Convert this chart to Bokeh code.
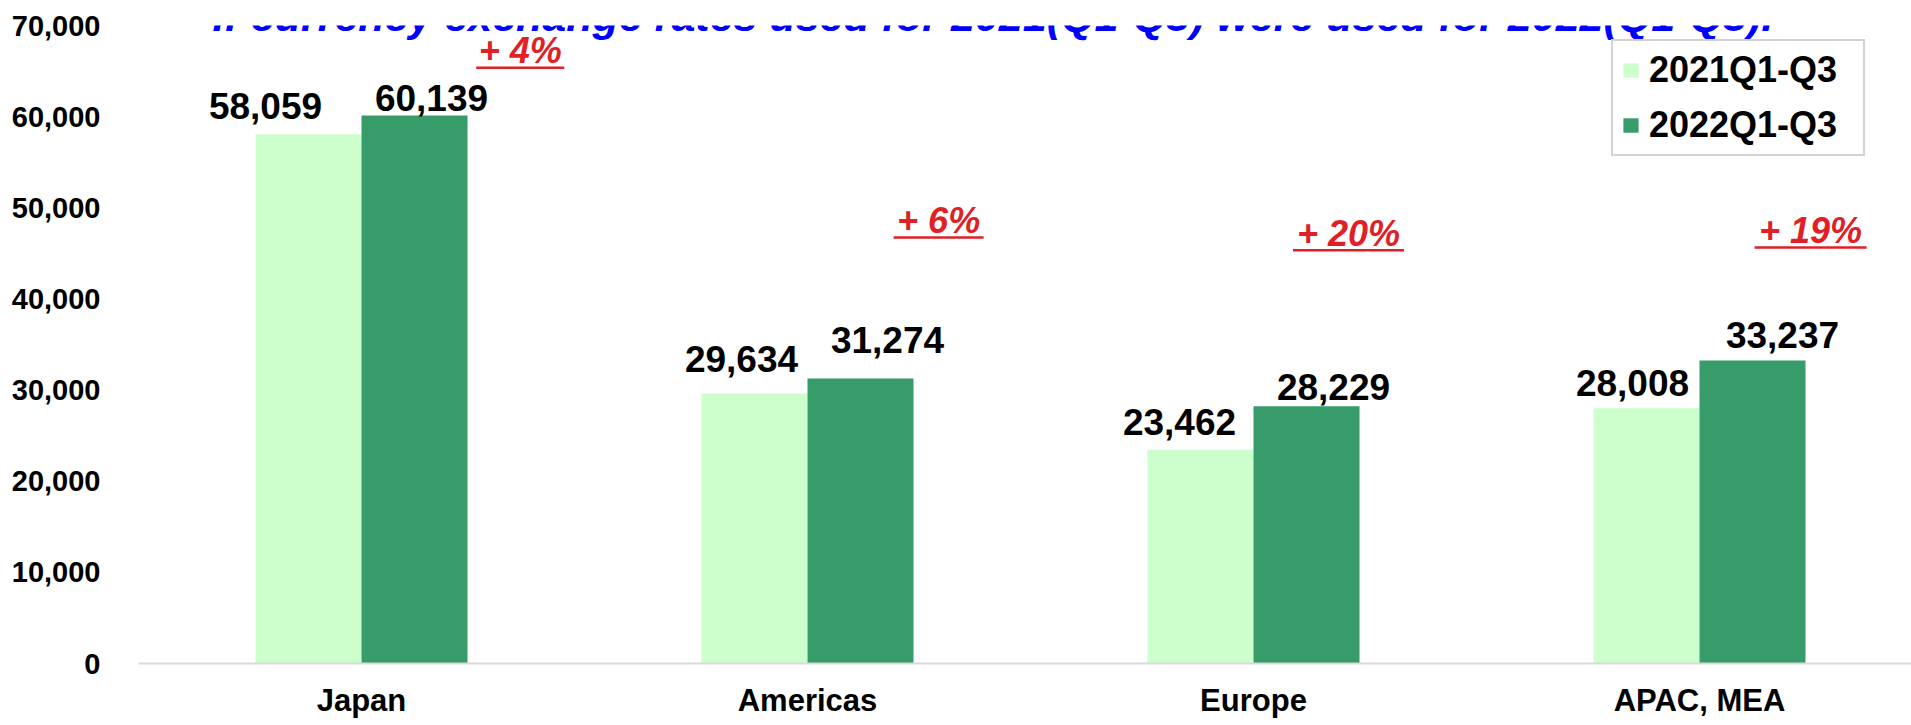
import numpy as np
from bokeh.plotting import figure
from bokeh.models import (ColumnDataSource, Range1d, FixedTicker, NumeralTickFormatter,
                          Legend, LegendItem, Label)
from bokeh.core.properties import value
from bokeh.embed import file_html
from bokeh.resources import INLINE

# ---------------- data ----------------
regions = ["Japan", "Americas", "Europe", "APAC, MEA"]
series = ["2021Q1-Q3", "2022Q1-Q3"]
sales_2021 = [58059, 29634, 23462, 28008]
sales_2022 = [60139, 31274, 28229, 33237]
growth_labels = ["+ 4%", "+ 6%", "+ 20%", "+ 19%"]
y_ticks = [0, 10000, 20000, 30000, 40000, 50000, 60000, 70000]
title_text = "If currency exchange rates used for 2021(Q1-Q3) were used for 2022(Q1-Q3)."

# ---------------- styles / placement ----------------
FONT = "Liberation Sans"
LIGHT = "#ccffcc"
DARK = "#389b6a"
RED = "#e01f26"
BLUE = "#0000ff"
W, H = 1911, 725
BORDER_L, BORDER_T, BORDER_B = 138, 25, 62
FRAME_H = H - BORDER_T - BORDER_B
CAT_PX = 446.0
BW = 0.2377  # bar width in category units
BASE_FIX = 13  # svg baseline compensation (px)

# label nudges (px) as in the original slide
dx_a = [-43, -13, -21, -14]
gap_a = [15, 21, 15, 12]
dx_b = [17, 27, 27, 30]
gap_b = [4, 25, 6, 13]
# growth annotation anchors (category units / value units) and underline widths (px)
g_x = [0.356, 1.294, 2.213, 3.249]
g_y = [65900, 47300, 45900, 46200]
g_w = [88, 90, 111, 112]

p = figure(width=W, height=H, output_backend="svg", toolbar_location=None,
           x_range=Range1d(-0.5, -0.5 + (W - BORDER_L) / CAT_PX),
           y_range=Range1d(0, 70000),
           min_border_left=BORDER_L, min_border_right=0, min_border_top=BORDER_T,
           min_border_bottom=BORDER_B)
p.outline_line_color = None
p.xgrid.grid_line_color = None
p.ygrid.grid_line_color = None
p.background_fill_color = "white"
p.border_fill_color = "white"

x = np.arange(len(regions), dtype=float)
xa = x - BW / 2
xb = x + BW / 2

src_a = ColumnDataSource(dict(x=xa, top=sales_2021,
                              lbl=[f"{v:,}" for v in sales_2021],
                              dx=dx_a, dy=[-(g + BASE_FIX) for g in gap_a]))
src_b = ColumnDataSource(dict(x=xb, top=sales_2022,
                              lbl=[f"{v:,}" for v in sales_2022],
                              dx=dx_b, dy=[-(g + BASE_FIX) for g in gap_b]))

r_a = p.vbar(x="x", top="top", width=BW, bottom=0, source=src_a,
             fill_color=LIGHT, line_color=None)
r_b = p.vbar(x="x", top="top", width=BW, bottom=0, source=src_b,
             fill_color=DARK, line_color=None)

for s in (src_a, src_b):
    p.text(x="x", y="top", text="lbl", x_offset="dx", y_offset="dy", source=s,
           text_align="center", text_baseline="alphabetic",
           text_font=value(FONT), text_font_style="bold",
           text_font_size="37px", text_color="black")

# growth annotations (red, bold italic, underlined)
px_per_val = FRAME_H / 70000.0
src_g = ColumnDataSource(dict(x=g_x, y=g_y, t=growth_labels, w=g_w,
                              uy=[v - 5 / px_per_val for v in g_y],
                              dy=[-12] * len(g_y)))
p.text(x="x", y="y", text="t", y_offset="dy", source=src_g, text_align="center",
       text_baseline="alphabetic", text_font=value(FONT),
       text_font_style="bold italic", text_font_size="36px", text_color=RED)
p.rect(x="x", y="uy", width="w", height=2.5, width_units="screen",
       height_units="screen", source=src_g, fill_color=RED, line_color=None)

# axes
p.xaxis.ticker = FixedTicker(ticks=list(x))
p.xaxis.major_label_overrides = {float(i): r for i, r in enumerate(regions)}
p.xaxis.major_label_overrides.update({int(i): r for i, r in enumerate(regions)})
p.xaxis.axis_line_color = "#d9d9d9"
p.xaxis.axis_line_width = 2
p.xaxis.major_tick_line_color = None
p.xaxis.minor_tick_line_color = None
p.xaxis.major_tick_out = 0
p.xaxis.major_tick_in = 0
p.xaxis.major_label_standoff = 19
p.xaxis.major_label_text_line_height = 1.0
p.xaxis.major_label_text_font = FONT
p.xaxis.major_label_text_font_style = "bold"
p.xaxis.major_label_text_font_size = "31px"
p.xaxis.major_label_text_color = "black"

p.yaxis.ticker = FixedTicker(ticks=y_ticks)
p.yaxis.formatter = NumeralTickFormatter(format="0,0")
p.yaxis.axis_line_color = None
p.yaxis.major_tick_line_color = None
p.yaxis.minor_tick_line_color = None
p.yaxis.major_tick_out = 0
p.yaxis.major_tick_in = 0
p.yaxis.major_label_standoff = 38
p.yaxis.major_label_text_font = FONT
p.yaxis.major_label_text_font_style = "bold"
p.yaxis.major_label_text_font_size = "29px"
p.yaxis.major_label_text_color = "black"

# legend
legend = Legend(items=[LegendItem(label=series[0], renderers=[r_a]),
                       LegendItem(label=series[1], renderers=[r_b])],
                location=(1473, 507), orientation="vertical",
                glyph_width=19, glyph_height=18, label_standoff=9,
                padding=8, spacing=13, margin=0, label_width=206,
                label_text_line_height=1.0,
                label_text_font=FONT, label_text_font_style="bold",
                label_text_font_size="36px", label_text_color="black",
                border_line_color="#a6a6a6", border_line_width=2,
                background_fill_color="white", background_fill_alpha=1.0)
p.add_layout(legend)

# cut-off headline at the very top of the slide
p.add_layout(Label(x=-0.334, y=70000 + 10 / px_per_val, text=title_text,
                   text_font=FONT, text_font_style="bold italic",
                   text_font_size="43px", text_color=BLUE,
                   text_baseline="alphabetic", text_align="left"))

open("out.html", "w").write(file_html(p, INLINE))
